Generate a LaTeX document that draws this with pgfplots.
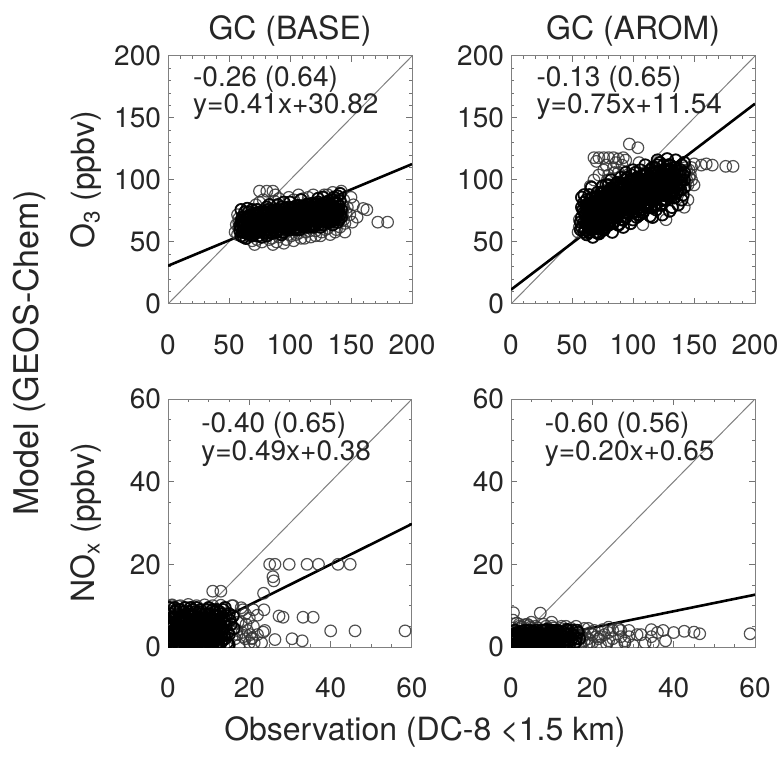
\documentclass[border=0pt]{standalone}
\usepackage{pgfplots}
\pgfplotsset{compat=1.18}
\usepackage{fontspec}
\setmainfont{TeX Gyre Heros}

\tikzset{anno/.style={anchor=west, font=\fontsize{14}{16}\selectfont, text=black!85, inner sep=0pt}}
\pgfplotsset{
  every axis title shift=0pt,
  panel/.style={
    scale only axis, width=122pt, height=124pt, anchor=south west,
    axis line style={draw=black!50, line width=0.5pt},
    tick style={draw=black!55, line width=0.5pt},
    tick align=inside,
    major tick length=3pt, minor tick length=1.6pt,
    ticklabel style={font=\fontsize{14}{16}\selectfont, text=black!85},
    /pgf/number format/assume math mode=true,
    xticklabel style={yshift=-12pt},
    clip marker paths=true,
    title style={at={(0.5,1)}, anchor=center, yshift=12.5pt, font=\fontsize{16}{19}\selectfont, text=black!85},
    ylabel style={at={(axis description cs:-0.336,0.5)}, anchor=center, font=\fontsize{16}{19}\selectfont, text=black!85},
  },
  othree/.style={xmin=0,xmax=200,ymin=0,ymax=200, xtick={0,50,100,150,200}, ytick={0,50,100,150,200}, minor tick num=4},
  nox/.style={xmin=0,xmax=60,ymin=0,ymax=60, xtick={0,20,40,60}, ytick={0,20,40,60}, minor tick num=3},
  pts/.style={only marks, mark=o, mark size=2.9pt, mark options={draw=black!80, line width=0.6pt, draw opacity=0.85}},
  ptsmid/.style={only marks, mark=o, mark size=2.9pt, mark options={draw=black, line width=0.9pt, draw opacity=0.9}},
  ptscore/.style={only marks, mark=o, mark size=2.9pt, mark options={draw=black, line width=1.25pt}},
  band/.style n args={5}{y filter/.expression={(x>#1 && x<#2 && abs(y-(#3*x+#4))<#5) ? y : nan}},
  oneone/.style={black!50, line width=0.5pt},
  fitline/.style={black, line width=1.3pt},
}

% ---------- data (observation, model) ----------
\def\baseothree{%
(55,58)(57,56)(58,62)(60,55)(61,66)(62,59)(63,70)(64,53)(65,63)(66,74)(67,57)(68,67)(69,51)(70,61)(70,72)(71,48)(72,65)(73,76)(74,55)(75,69)(76,60)(77,50)(78,73)(79,64)(80,57)(81,78)(82,68)(83,52)(84,62)(85,75)(86,48)(87,66)(88,71)(89,58)(90,80)(91,54)(92,63)(93,74)(94,68)(95,49)(96,77)(97,60)(98,70)(99,56)(100,82)(101,65)(102,73)(103,51)(104,61)(105,79)(106,68)(107,57)(108,75)(109,84)(110,63)(111,70)(112,53)(113,78)(114,66)(115,86)(116,59)(117,73)(118,81)(119,62)(120,69)(121,55)(122,77)(123,85)(124,64)(125,72)(126,58)(127,80)(128,88)(129,67)(130,74)(131,61)(132,83)(133,70)(134,78)(135,64)(136,86)(137,73)(138,60)(139,81)(140,68)(141,89)(142,76)(143,71)(144,84)(145,65)(147,78)(149,72)(150,86)(152,80)
(66,63)(68,60)(70,66)(72,58)(74,64)(76,70)(78,62)(80,68)(82,60)(84,70)(86,64)(88,62)(90,68)(92,72)(94,62)(96,70)(98,66)(100,60)(102,68)(104,72)(106,62)(108,70)(110,74)(112,66)(114,72)(116,68)(118,75)(120,64)(122,72)(124,76)(126,68)(128,74)(130,70)(132,76)(134,72)(136,78)(138,70)(140,76)(75,58)(85,57)(95,58)(105,56)(115,62)(125,62)(135,68)(80,74)(90,74)(100,76)(110,78)(120,80)(130,82)(65,60)(70,56)(60,62)(62,65)(58,66)(64,68)(67,71)
(61,70)(63,74)(65,77)(69,76)(72,80)(75,82)(78,84)(83,80)(87,83)(91,85)(95,82)(99,86)(103,84)(107,88)(111,85)(115,80)(119,88)(123,82)(127,86)(131,88)(135,84)(139,87)(143,80)(146,74)(144,68)(141,62)(137,58)(133,56)(129,60)(125,55)(121,59)(117,54)(113,58)(109,53)(105,60)(101,55)(97,52)(93,56)(89,50)(85,53)(81,55)(77,54)(73,52)(69,55)(65,57)(62,54)(59,59)(56,64)(58,69)(60,76)
(67,65)(71,69)(73,62)(77,66)(79,71)(81,63)(83,67)(85,72)(87,60)(89,65)(91,70)(93,66)(95,73)(97,68)(99,63)(101,71)(103,66)(105,70)(107,64)(109,68)(111,62)(113,71)(115,67)(117,64)(119,70)(121,67)(123,73)(125,67)(127,70)(129,72)(131,66)(133,75)(135,70)(137,68)(139,75)(141,72)
(59,63)(60,67)(61,58)(62,62)(63,66)(64,60)(65,70)(66,66)(67,61)(68,71)(69,64)(70,58)(71,66)(72,73)(73,68)(74,60)(75,66)(76,74)(77,62)(78,69)(79,58)(80,64)(81,72)(82,76)(83,64)(84,58)(85,66)(86,73)(87,70)(88,58)(89,76)(90,64)(91,60)(92,68)(93,78)(94,58)(95,67)(96,64)(97,74)(98,61)(99,78)(100,69)(101,62)(102,77)(103,70)(104,64)(105,66)(106,74)(107,79)(108,60)(109,72)(110,67)(111,77)(112,72)(113,64)(114,80)(115,70)(116,76)(117,68)(118,63)(119,78)(120,73)(121,64)(122,68)(123,77)(124,70)(125,80)(126,74)(127,64)(128,69)(129,78)(130,66)(131,72)(132,80)(133,66)(134,74)(135,77)(136,70)(137,81)(138,75)(139,66)(140,79)(141,83)(142,70)(143,75)(144,78)
(70,64)(74,68)(78,66)(82,64)(86,68)(90,66)(94,66)(98,64)(102,64)(106,66)(110,70)(114,68)(118,70)(122,66)(126,72)(130,78)(134,68)(138,74)(80,60)(90,60)(100,66)(110,66)(120,76)(130,68)(76,66)(96,62)(116,72)(136,74)
(75,91)(81,91)(86,91)(88,88)(151,66)(155,70)(160,77)(163,76)(172,66)(180,66)(145,58)(142,91)(135,90)(57,72)}

\def\aromothree{%
(55,58)(56,62)(57,66)(58,70)(59,76)(60,82)(58,86)(61,60)(62,56)(63,64)(64,72)(65,79)(66,85)(67,54)(68,68)(69,61)(70,75)(71,90)(72,57)(73,66)(74,82)(75,95)(76,70)(77,62)(78,88)(79,100)(80,74)(81,66)(82,93)(83,58)(84,80)(85,106)(86,70)(87,85)(88,64)(89,97)(90,76)(91,112)(92,68)(93,89)(94,81)(95,102)(96,73)(97,92)(98,65)(99,84)(100,108)(101,77)(102,96)(103,70)(104,88)(105,114)(106,82)(107,100)(108,74)(109,92)(110,86)(111,105)(112,78)(113,96)(114,71)(115,90)(116,110)(117,84)(118,100)(119,76)(120,94)(121,106)(122,88)(123,80)(124,98)(125,112)(126,92)(127,84)(128,104)(129,96)(130,75)(131,108)(132,90)(133,100)(134,86)(135,110)(136,96)(137,80)(138,104)(139,92)(140,112)(141,88)(142,100)(143,95)(144,108)(145,84)(146,102)(148,110)(150,96)
(68,118)(72,118)(76,118)(80,118)(84,118)(88,117)(92,118)(70,115)(78,112)(86,114)(94,116)(120,116)(128,117)(135,116)(142,114)(150,113)(156,112)(160,113)(165,112)(176,111)(182,111)(97,129)(104,126)(127,68)(142,78)(65,95)(60,88)
(66,70)(68,74)(70,68)(72,78)(74,72)(76,80)(78,76)(80,84)(82,78)(84,86)(86,80)(88,90)(90,84)(92,80)(94,90)(96,86)(98,94)(100,88)(102,84)(104,94)(106,90)(108,98)(110,94)(112,90)(114,100)(116,94)(118,90)(120,100)(122,96)(124,92)(126,100)(128,96)(130,102)(75,76)(85,76)(95,82)(105,78)(115,84)(125,88)(80,90)(90,96)(100,100)(110,104)(120,112)(62,68)(64,62)(60,66)(70,62)(72,70)(95,74)(105,72)(115,78)
(63,78)(65,68)(67,76)(69,82)(71,72)(73,86)(75,80)(77,74)(79,84)(81,78)(83,90)(85,82)(87,76)(89,88)(91,82)(93,94)(95,86)(97,78)(99,90)(101,84)(103,98)(105,90)(107,82)(109,96)(111,88)(113,102)(115,94)(117,86)(119,98)(121,92)(123,104)(125,96)(127,90)(129,100)(131,94)(133,106)(135,100)(137,92)(139,98)(141,104)(143,110)(145,96)(147,104)
(70,80)(74,90)(78,96)(82,100)(86,96)(90,102)(94,106)(98,100)(102,106)(106,108)(110,112)(114,108)(118,110)(122,114)(126,108)(130,112)(80,104)(84,110)(88,106)(76,108)(72,104)(68,100)(66,94)(64,88)(62,84)(82,70)(88,72)(94,70)(100,74)(106,76)(112,82)(118,80)(124,84)(130,88)(136,90)(142,94)(148,100)(76,64)(84,66)(92,62)(100,68)(108,64)(116,70)(124,72)(132,78)(140,84)
(61,72)(62,76)(63,70)(64,80)(65,74)(66,64)(67,82)(68,78)(69,72)(70,86)(71,78)(72,66)(73,74)(74,86)(75,70)(76,90)(77,84)(78,72)(79,80)(80,96)(81,88)(82,74)(83,84)(84,92)(85,72)(86,88)(87,98)(88,80)(89,76)(90,92)(91,88)(92,96)(93,76)(94,100)(95,92)(96,80)(97,96)(98,88)(99,104)(100,80)(101,94)(102,90)(103,86)(104,102)(105,84)(106,96)(107,92)(108,86)(109,104)(110,80)(111,98)(112,94)(113,86)(114,92)(115,102)(116,88)(117,96)(118,106)(119,92)(120,88)(121,98)(122,102)(123,94)(124,106)(125,90)(126,104)(127,98)(128,92)(129,108)(130,96)(131,100)(132,96)(133,92)(134,104)(135,94)(136,106)(137,100)(138,96)(139,108)(140,100)(142,106)(144,100)(146,108)
(58,62)(60,58)(62,64)(64,58)(66,60)(68,64)(70,58)(72,62)(74,64)(76,60)(78,68)(80,64)(60,74)(62,80)(58,78)(56,68)(57,60)}

\def\basenox{%
(0.5,0.5)(1,2)(1.5,4)(2,6)(0.5,8)(1,10)(2.5,1)(3,3)(3.5,5)(4,7)(3,9)(4.5,0.5)(5,2)(5.5,4)(6,6)(5,8.5)(6.5,1)(7,3)(7.5,5)(8,7)(7,9.5)(8.5,0.5)(9,2)(9.5,4)(10,6)(9,8)(10.5,1)(11,3)(11.5,5)(12,7.5)(11,9)(12.5,0.5)(13,2.5)(13.5,4.5)(14,6.5)(13,8)(14.5,1)(15,3)(15.5,5.5)(16,7.5)(16.5,2)(17,4)(18,6)(17.5,0.5)(18.5,2.5)(19,8)(19.5,4)(20,1)
(0.5,3)(1.5,7)(2.5,5)(3.5,1.5)(4.5,3.5)(5.5,6.5)(6.5,4.5)(7.5,2)(8.5,5.5)(9.5,7)(10.5,3.5)(11.5,2)(12.5,5.5)(2,2)(4,1)(6,3)(8,1.5)(10,4.5)(12,3)(14,2)(3,6)(5,5)(7,6.5)(9,5)(11,6.5)(13,5)(15,8)(1,5)(2,9)(4,8.5)(6,9)(8,9)(10,9.5)(12,9)(14,9.5)(16,10)(18,9.5)(1,1)(3,0.5)(5,1)(7,0.5)(9,0.5)(11,0.5)(13,1)(15,0.5)(17,3)(19,2)(21,5)(22,3)(20,7)(23,1)
(0.3,1.5)(0.8,3.5)(1.2,5.5)(1.8,8.5)(2.2,0.3)(2.8,2.5)(3.2,4.5)(3.8,7.5)(4.2,9.5)(4.8,1.5)(5.2,3)(5.8,5.5)(6.2,7.5)(6.8,0.3)(7.2,4)(7.8,6)(8.2,8)(8.8,1)(9.2,3)(9.8,5.5)(10.2,8)(10.8,2)(11.2,4.5)(11.8,6.5)(12.2,1)(12.8,4)(13.2,7)(13.8,3)(14.2,5)(14.8,0.5)(15.2,6.5)(16.2,4.5)(17.2,6)(18.2,3.5)(19.2,5.5)(20.2,3)(21.2,1)(0.2,6)(1.6,9.5)(3.6,8.5)(5.6,9.5)(7.6,8.5)(9.6,9)(11.6,8.5)(13.6,9)
(0.2,0.2)(0.7,4.5)(1.3,7.2)(1.7,2.8)(2.3,4)(2.7,7)(3.3,2)(3.7,6)(4.3,4.5)(4.7,8)(5.3,2.5)(5.7,7.5)(6.3,5)(6.7,8.5)(7.3,1.5)(7.7,7)(8.3,3.5)(8.7,6.5)(9.3,1.5)(9.7,5)(10.3,2.5)(10.7,7)(11.3,1.5)(11.7,4)(12.3,6)(12.7,8.5)(13.3,3.5)(13.7,6)(14.3,7.5)(14.7,3.5)(0.4,9.5)(2.6,9.8)(4.4,6.2)(6.6,6.2)(8.6,2.8)(10.4,5.2)(12.4,2.2)(1.4,2.4)(3.4,3.6)(5.4,0.8)(7.4,3.2)(9.4,6.2)(11.4,7.6)(13.4,1.8)(1,10.2)(3,10)(5,10.3)(7,10)(9,10.2)(11,10)(13,10.1)
(11,13.5)(13,13.5)(23.5,13)(25,20)(26.3,20)(25.8,17)(26,16)(29.8,20)(34.2,20)(37,20)(41.8,20)(44.8,20)(22,7.7)(23.6,9)(27.3,7.5)(28.3,7.2)(33.2,7.2)(35.7,7.2)(23.8,4)(40,3.9)(46,3.9)(58.3,3.9)(20.6,2)(26.3,1.8)(30.5,2)(33,1.5)(15.7,10)(18.4,9)(21,9)(23.4,3.6)(20.7,2.2)}

\def\aromnox{%
(0.5,0.5)(1,2)(1.5,3.5)(2,5)(0.5,6.5)(2.5,1)(3,2.5)(3.5,4)(4,5.5)(4.5,0.5)(5,2)(5.5,3.5)(6,5)(6.5,1)(7,2.5)(7.5,4)(8,5.5)(8.5,0.5)(9,2)(9.5,3.5)(10,5)(10.5,1)(11,2.5)(11.5,4)(12,0.5)(12.5,2)(13,3.5)(13.5,5)(14,1)(14.5,2.5)(15,4)(15.5,0.5)(16,2)(16.5,3.5)(17,1)(17.5,2.5)(18,4.5)(18.5,0.5)(19,2)(19.5,3.5)(20,1)(21,2.5)(22,0.5)(23,3)(24,1.5)(25,4)(26,0.5)(27,2.5)(28,1)
(1,4)(2,3)(3,1)(4,3)(5,4.5)(6,3)(7,0.5)(8,3)(9,4.5)(10,2.5)(11,0.5)(12,3.5)(13,1.5)(14,4)(15,2)(16,5)(17,3)(18,1.5)(19,4.5)(20,3)(0.5,2.5)(1.5,1)(2.5,3)(3.5,2)(4.5,4)(5.5,1)(6.5,2.5)(7.5,1.5)(8.5,4)(9.5,1)(10.5,3.5)(11.5,2)(0.6,8.3)(7.2,8.2)(2,5.5)(5,6)(10,6)
(0.3,1.5)(0.8,3)(1.2,0.5)(1.8,4.5)(2.2,2)(2.8,3.8)(3.2,0.3)(3.8,3)(4.2,1.5)(4.8,4.8)(5.2,0.5)(5.8,2.8)(6.2,4)(6.8,1.8)(7.2,3.3)(7.8,0.5)(8.2,2.2)(8.8,4.2)(9.2,0.8)(9.8,2.8)(10.2,4)(10.8,1.5)(11.2,3)(11.8,0.5)(12.2,4.5)(12.8,2.5)(13.2,0.8)(13.8,3.2)(14.2,1.8)(14.8,4.5)(15.2,3)(15.8,1.2)(16.2,4)(16.8,2)(17.2,0.5)(18.2,3)(19.2,1)(20.5,4)(21.5,2)(22.5,4.2)(23.5,0.8)(25,2)(27,4)(29,2.5)(30,0.5)(32,3)(35,1)(36,3.5)(38,1.5)(24,4.8)
(0.2,0.2)(0.7,1.8)(1.3,2.6)(1.7,0.8)(2.3,3.6)(2.7,1.4)(3.3,3.2)(3.7,0.6)(4.3,2.6)(4.7,1.2)(5.3,3.8)(5.7,2.2)(6.3,0.4)(6.7,3.4)(7.3,1)(7.7,2.8)(8.3,0.4)(8.7,3.2)(9.3,2.2)(9.7,4)(10.3,0.6)(10.7,2.4)(11.3,3.8)(11.7,1.2)(12.3,2.8)(12.7,0.6)(13.3,2.4)(13.7,4.2)(14.3,0.6)(14.7,3.2)(0.4,4.6)(2.6,4.8)(4.4,5.2)(6.6,4.6)(8.6,5)(10.4,4.6)(12.4,5)(1.4,5.8)(3.4,5.4)
(26.3,4.5)(26.6,4.3)(29,4)(34.5,4.2)(37.4,4)(40,3.5)(42.6,3.8)(45,3.6)(46.4,3.2)(58.8,3.2)(22,2.5)(28,1.5)(33,1)(34.5,2.5)(31,3)(24,3.5)}

\begin{document}
\begin{tikzpicture}
\useasboundingbox (0,0) rectangle (389.5pt,380pt);

% ---------------- O3 BASE ----------------
\begin{axis}[panel, othree, at={(84pt,228pt)}, title={GC (BASE)}, ylabel={O\textsubscript{3} (ppbv)}]
\addplot[oneone] coordinates {(0,0) (200,200)};
\addplot[fitline] coordinates {(0,30.82) (200,112.82)};
\edef\tmp{\noexpand\addplot[pts] coordinates {\baseothree};}\tmp
\edef\tmp{\noexpand\addplot[ptsmid, band={58}{143}{0.15}{55}{13}] coordinates {\baseothree};}\tmp
\edef\tmp{\noexpand\addplot[ptscore, band={64}{136}{0.15}{55}{8}] coordinates {\baseothree};}\tmp
\node[anno] at (axis cs:20.3,181.5) {-0.26 (0.64)};
\node[anno] at (axis cs:20.3,159.5) {y=0.41x+30.82};
\end{axis}

% ---------------- O3 AROM ----------------
\begin{axis}[panel, othree, at={(255.5pt,228pt)}, title={GC (AROM)}]
\addplot[oneone] coordinates {(0,0) (200,200)};
\addplot[fitline] coordinates {(0,11.54) (200,161.54)};
\edef\tmp{\noexpand\addplot[pts] coordinates {\aromothree};}\tmp
\edef\tmp{\noexpand\addplot[ptsmid, band={56}{143}{0.43}{42}{24}] coordinates {\aromothree};}\tmp
\edef\tmp{\noexpand\addplot[ptscore, band={62}{135}{0.43}{42}{16}] coordinates {\aromothree};}\tmp
\node[anno] at (axis cs:20.7,181.5) {-0.13 (0.65)};
\node[anno] at (axis cs:20.7,159.5) {y=0.75x+11.54};
\end{axis}

% ---------------- NOx BASE ----------------
\begin{axis}[panel, nox, at={(84pt,56.5pt)}, ylabel={NO\textsubscript{x} (ppbv)},
  extra description/.code={
    \node[rotate=90, anchor=center, font=\fontsize{17}{20}\selectfont, text=black!85] at (-0.570,1.185) {Model (GEOS-Chem)};
    \node[anchor=center, font=\fontsize{16}{19}\selectfont, text=black!85] at (1.053,-0.343) {Observation (DC-8 \textless1.5 km)};
  }]
\addplot[oneone] coordinates {(0,0) (60,60)};
\addplot[fitline] coordinates {(0,0.38) (60,29.78)};
\edef\tmp{\noexpand\addplot[pts] coordinates {\basenox};}\tmp
\edef\tmp{\noexpand\addplot[ptsmid, band={-1}{16.5}{0}{4.5}{5.2}] coordinates {\basenox};}\tmp
\edef\tmp{\noexpand\addplot[ptscore, band={-1}{12.5}{0}{4}{3.6}] coordinates {\basenox};}\tmp
\node[anno] at (axis cs:8.1,53.7) {-0.40 (0.65)};
\node[anno] at (axis cs:8.1,46.7) {y=0.49x+0.38};
\end{axis}

% ---------------- NOx AROM ----------------
\begin{axis}[panel, nox, at={(255.5pt,56.5pt)}]
\addplot[oneone] coordinates {(0,0) (60,60)};
\addplot[fitline] coordinates {(0,0.65) (60,12.65)};
\edef\tmp{\noexpand\addplot[pts] coordinates {\aromnox};}\tmp
\edef\tmp{\noexpand\addplot[ptsmid, band={-1}{17}{0}{2}{2.4}] coordinates {\aromnox};}\tmp
\edef\tmp{\noexpand\addplot[ptscore, band={-1}{12}{0}{1.5}{1.6}] coordinates {\aromnox};}\tmp
\node[anno] at (axis cs:8.2,53.7) {-0.60 (0.56)};
\node[anno] at (axis cs:8.2,46.7) {y=0.20x+0.65};
\end{axis}
\end{tikzpicture}
\end{document}
